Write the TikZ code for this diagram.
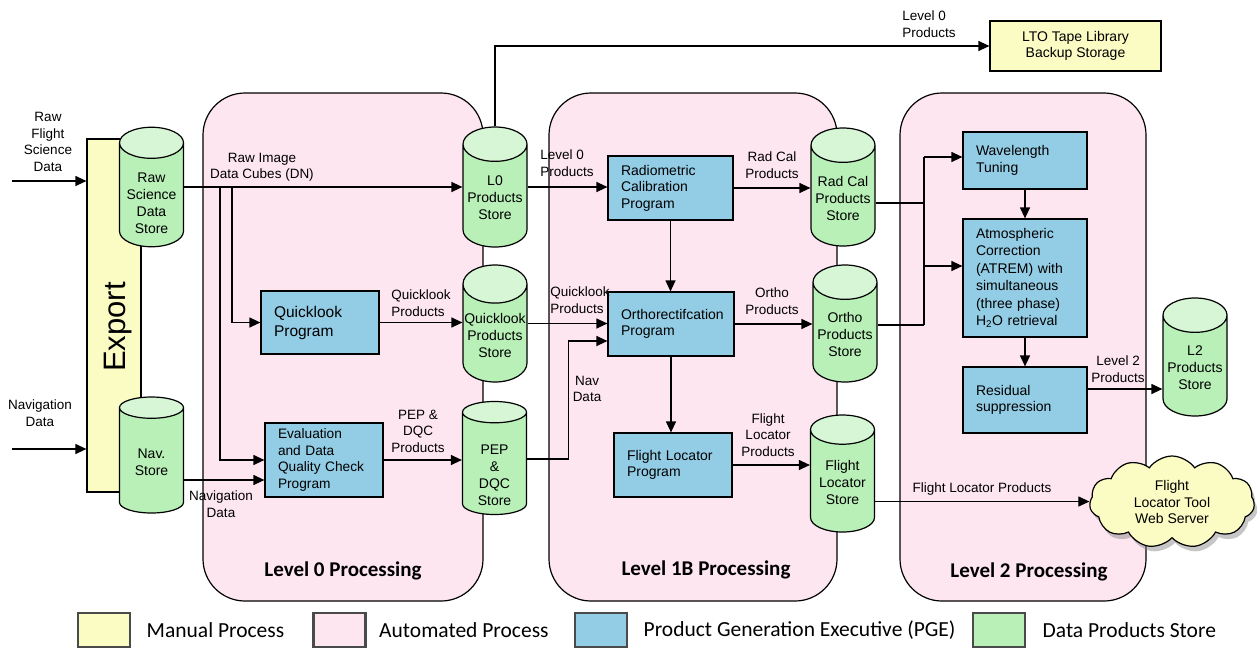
\documentclass[tikz,border=0pt]{standalone}
\usepackage{fontspec}
\setmainfont{Liberation Sans}
\newfontfamily\calfont{Carlito}
\usepackage{graphicx}
\usetikzlibrary{arrows.meta,positioning,calc,shapes.geometric,shapes.symbols,shadows}

\definecolor{manualyellow}{HTML}{FBFBC4}
\definecolor{autopink}{HTML}{FDE6F0}
\definecolor{pgeblue}{HTML}{93CCE5}
\definecolor{storegreen}{HTML}{B8F0B8}
\definecolor{storetop}{HTML}{D6F6D6}
\definecolor{legendgray}{HTML}{4A4A4A}

\tikzset{
  arr/.style={-{Triangle[length=11pt,width=10pt]}},
  area/.style={draw, fill=autopink, rounded corners=42pt},
  areatitle/.style={font=\calfont\bfseries\fontsize{21}{24}\selectfont},
  manual/.style={draw, fill=manualyellow, align=center, font=\fontsize{14}{16}\selectfont},
  pge/.style={draw, fill=pgeblue, align=left, inner xsep=13pt, inner ysep=0pt, font=\fontsize{14}{16.5}\selectfont},
  store/.style={cylinder, shape border rotate=90, draw, aspect=0.6,
    cylinder uses custom fill, cylinder body fill=storegreen, cylinder end fill=storetop,
    minimum width=64pt, inner sep=1pt, align=center, anchor=shape center,
    font=\fontsize{14}{17}\selectfont},
  lbl/.style={align=center, inner sep=0pt, font=\fontsize{13.5}{16.5}\selectfont},
  legbox/.style={draw=legendgray, line width=2.2pt, minimum width=52pt, minimum height=34pt},
  legtext/.style={inner sep=0pt, font=\calfont\fontsize{21.5}{24}\selectfont}
}

\begin{document}
\begin{tikzpicture}[x=1pt, y=-1pt, line width=1.2pt]
\useasboundingbox (0,0) rectangle (1257,649);

% processing areas
\node[area, minimum width=280pt, minimum height=508pt] (lvl0) at (343,347) {};
\node[area, minimum width=288pt, minimum height=508pt] (lvl1) at (693,347) {};
\node[area, minimum width=246pt, minimum height=508pt] (lvl2) at (1023,347) {};
\node[areatitle] (lvl0title) at (343,571) {Level 0 Processing};
\node[areatitle] (lvl1title) at (706,570) {Level 1B Processing};
\node[areatitle] (lvl2title) at (1029,572) {Level 2 Processing};

% manual steps
\node[manual, minimum width=54pt, minimum height=353pt] (export) at (114,315.5) {};
\node[rotate=90, inner sep=0pt, font=\fontsize{31}{31}\selectfont] (exporttext) at (118,327) {Export};
\node[manual, minimum width=171pt, minimum height=50pt] (lto) at (1075.5,46) {LTO Tape Library\\Backup Storage};

% data stores
\node[store, minimum height=118pt] (rawstore) at (151.5,187) {\rule{0pt}{23pt}Raw\\Science\\Data\\Store};
\node[store, minimum height=116pt] (navstore) at (151.5,455) {Nav.\\Store};
\node[store, minimum height=120pt] (l0store) at (495,187) {L0\\Products\\Store};
\node[store, minimum height=117pt] (qlstore) at (495,323.5) {Quicklook\\Products\\Store};
\node[store, minimum height=106pt] (pepstore) at (494.5,458) {\rule{0pt}{30pt}PEP\\\&\\DQC\\Store};
\node[store, minimum height=118pt] (radstore) at (843,187) {Rad Cal\\Products\\Store};
\node[store, minimum height=117pt] (orthostore) at (845,323.5) {Ortho\\Products\\Store};
\node[store, minimum height=117pt] (flstore) at (842.5,473.5) {Flight\\Locator\\Store};
\node[store, minimum height=118pt] (l2store) at (1195,357) {L2\\Products\\Store};

% product generation executives
\node[pge, text width=92pt, minimum height=63pt, font=\fontsize{15.5}{19}\selectfont] (qlprog) at (320,322.5) {Quicklook\\Program};
\node[pge, text width=92pt, minimum height=74pt, font=\fontsize{13.7}{16.5}\selectfont] (evalprog) at (324,460) {Evaluation\\and Data\\Quality Check\\Program};
\node[pge, text width=99pt, minimum height=64pt] (radprog) at (670.5,188) {Radiometric\\Calibration\\Program};
\node[pge, text width=100pt, minimum height=64pt] (orthoprog) at (671,324) {Orthorectifcation\\Program};
\node[pge, text width=92pt, minimum height=64pt] (flprog) at (673,465) {Flight Locator\\Program};
\node[pge, text width=98pt, minimum height=57pt] (wavprog) at (1025,160.5) {Wavelength\\Tuning};
\node[pge, text width=98pt, minimum height=118pt, font=\fontsize{14}{17.5}\selectfont] (atmprog) at (1025,278) {Atmospheric\\Correction\\(ATREM) with\\simultaneous\\(three phase)\\H\textsubscript{2}O retrieval};
\node[pge, text width=98pt, minimum height=66pt] (resprog) at (1025,400) {Residual\\suppression};

% web server
\node[cloud, cloud puffs=11, cloud puff arc=110, aspect=1.75, draw, fill=manualyellow,
  minimum width=165pt, minimum height=92pt, align=center, inner sep=0pt,
  drop shadow={shadow xshift=3pt, shadow yshift=-5pt, opacity=0.45},
  font=\fontsize{14}{16.5}\selectfont] (cloud) at (1172,502) {Flight\\Locator Tool\\Web Server};

% helper points
\coordinate (rawin) at (12,181);
\coordinate (navin) at (12,449);
\coordinate (qlbranch) at (232,187);
\coordinate (evbranch) at (220,187);
\coordinate (rawout) at (rawstore.east |- rawstore.shape center);
\coordinate (navout) at ($(navstore.east |- navstore.shape center)+(0,25)$);
\coordinate (l0out) at (l0store.east |- l0store.shape center);
\coordinate (qlout) at (qlstore.east |- qlstore.shape center);
\coordinate (pepout) at ($(pepstore.east |- pepstore.shape center)+(0,1)$);
\coordinate (orthonav) at ([yshift=-17pt]orthoprog.west);
\coordinate (radout) at ($(radstore.east |- radstore.shape center)+(0,16)$);
\coordinate (orthoout) at ($(orthostore.east |- orthostore.shape center)+(0,1.5)$);
\coordinate (bustop) at (924,157);
\coordinate (busbot) at (924,325);
\coordinate (atmin) at ([yshift=12pt]atmprog.west);
\coordinate (resout) at ([yshift=11pt,xshift=-2pt]resprog.east);
\coordinate (flout) at ($(flstore.east |- flstore.shape center)+(0,28)$);

% inputs
\draw[arr] (rawin) -- (rawin -| export.west);
\draw[arr] (navin) -- (navin -| export.west);
\node[lbl] (rawinlbl) at (48,142) {Raw\\Flight\\Science\\Data};
\node[lbl] (navinlbl) at (40,413) {Navigation\\Data};

% level 0
\draw[arr] (rawout) -- (rawout -| l0store.west);
\draw[arr] (qlbranch) |- (qlprog.west);
\draw[arr] (evbranch) |- (evalprog.west);
\draw[arr] (navout) -- (navout -| evalprog.west);
\draw[arr] (qlprog.east) -- (qlprog.east -| qlstore.west);
\draw[arr] (evalprog.east) -- (evalprog.east -| pepstore.west);
\draw[arr] (l0store.north) |- (lto.west);
\node[lbl] (rawlbl) at (262,167) {Raw Image\\Data Cubes (DN)};
\node[lbl] (navlbl) at (221,504) {Navigation\\Data};
\node[lbl, align=left] (qllbl) at (421,303) {Quicklook\\Products};
\node[lbl] (peplbl) at (418,431) {PEP \&\\DQC\\Products};
\node[lbl, align=left] (ltolbl) at (929,24) {Level 0\\Products};

% level 1B
\draw[arr] (l0out) -- (l0out -| radprog.west);
\draw[arr] (qlout) -- (qlout -| orthoprog.west);
\draw[arr] (pepout) -- ++(41,0) |- (orthonav);
\draw[arr] (radprog.south) -- (radprog.south |- orthoprog.north);
\draw[arr] (orthoprog.south) -- (orthoprog.south |- flprog.north);
\draw[arr] (radprog.east) -- (radprog.east -| radstore.west);
\draw[arr] (orthoprog.east) -- (orthoprog.east -| orthostore.west);
\draw[arr] (flprog.east) -- (flprog.east -| flstore.west);
\node[lbl, align=left] (l0lbl) at (567,163) {Level 0\\Products};
\node[lbl, align=left] (qlinlbl) at (580,300) {Quicklook\\Products};
\node[lbl] (navdlbl) at (587,389) {Nav\\Data};
\node[lbl] (radlbl) at (772,165) {Rad Cal\\Products};
\node[lbl] (ortholbl) at (772,301) {Ortho\\Products};
\node[lbl] (fllbl) at (768,435) {Flight\\Locator\\Products};

% level 2
\draw (radout) -- (radout -| bustop);
\draw (orthoout) -- (orthoout -| busbot);
\draw (bustop) -- (busbot);
\draw[arr] (bustop) -- (bustop -| wavprog.west);
\draw[arr] (atmin -| bustop) -- (atmin);
\draw[arr] (wavprog.south) -- (atmprog.north);
\draw[arr] (atmprog.south) -- (resprog.north);
\draw[arr] (resout) -- (resout -| l2store.west);
\draw[arr] (flout) -- (flout -| cloud.west);
\node[lbl] (l2lbl) at (1118,369) {Level 2\\Products};
\node[lbl] (flwlbl) at (982,489) {Flight Locator Products};

% legend
\node[legbox, fill=manualyellow] (legman) at (104,630) {};
\node[legtext, right=15pt of legman] (legmantxt) {Manual Process};
\node[legbox, fill=autopink] (legauto) at (339.5,630) {};
\node[legtext, right=12pt of legauto] (legautotxt) {Automated Process};
\node[legbox, fill=pgeblue] (legpge) at (601,630) {};
\node[legtext, right=15pt of legpge] (legpgetxt) {Product Generation Executive (PGE)};
\node[legbox, fill=storegreen] (legstore) at (999,630) {};
\node[legtext, right=16pt of legstore] (legstoretxt) {Data Products Store};
\end{tikzpicture}
\end{document}
